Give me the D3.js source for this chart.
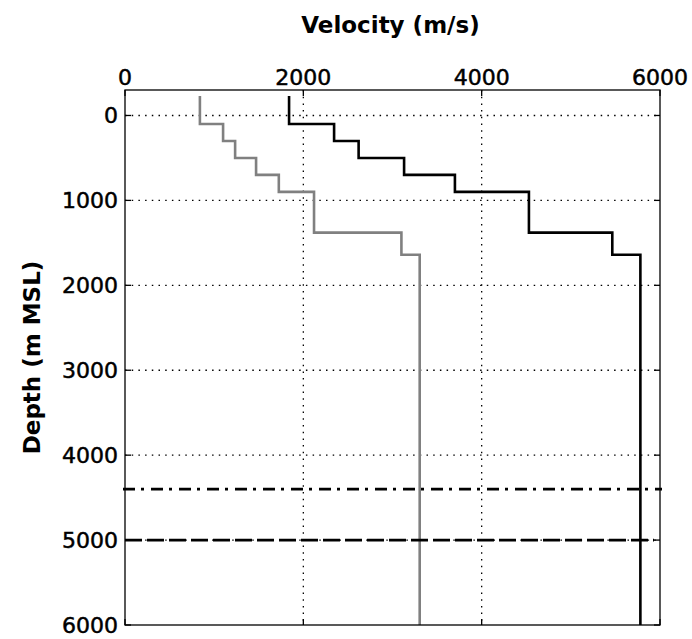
<!DOCTYPE html>
<html>
<head>
<meta charset="utf-8">
<script src="https://cdn.jsdelivr.net/npm/d3@7/dist/d3.min.js"></script>
<style>
  html, body { margin: 0; padding: 0; background: #fff; }
  svg { display: block; }
  text { font-family: "DejaVu Sans", sans-serif; fill: #000; }
</style>
</head>
<body>
<svg id="chart" width="692" height="639"></svg>
<script>
// ---- data ----
const layerTops = [-230, 100, 300, 500, 700, 900, 1380, 1640];   // depth (m MSL) of layer tops
const bottomDepth = 6000;
const grayVelocity  = [840, 1100, 1235, 1470, 1725, 2120, 3100, 3305];   // m/s
const blackVelocity = [1840, 2345, 2620, 3130, 3700, 4530, 5465, 5780];  // m/s
const dashDotDepth = [4400];
const dashedDepth = [5000];
const xTicks = [0, 2000, 4000, 6000];
const yTicks = [0, 1000, 2000, 3000, 4000, 5000, 6000];
const xGrid = [2000, 4000];
const yGrid = [0, 1000, 2000, 3000, 4000, 5000];

const svg = d3.select("#chart");
const L = 125, R = 660, T = 90, B = 625;

const x = d3.scaleLinear().domain([0, 6000]).range([L, R]);
const y = d3.scaleLinear().domain([-300, 6000]).range([T, B]);

// grid
const g = svg.append("g");
g.selectAll("line.gx").data(xGrid).join("line")
  .attr("x1", d => x(d)).attr("x2", d => x(d)).attr("y1", T).attr("y2", B)
  .attr("stroke", "#000").attr("stroke-width", 1.3).attr("stroke-dasharray", "1.5,5.2");
g.selectAll("line.gy").data(yGrid).join("line")
  .attr("x1", L).attr("x2", R).attr("y1", d => y(d)).attr("y2", d => y(d))
  .attr("stroke", "#000").attr("stroke-width", 1.3).attr("stroke-dasharray", "1.5,5.2");

// profiles
function stepPoints(vel) {
  const pts = [];
  vel.forEach((v, i) => {
    const top = layerTops[i];
    const bot = i + 1 < layerTops.length ? layerTops[i + 1] : bottomDepth;
    pts.push([v, top], [v, bot]);
  });
  return pts;
}
const line = d3.line().x(d => x(d[0])).y(d => y(d[1]));
svg.append("path").attr("d", line(stepPoints(grayVelocity)))
  .attr("fill", "none").attr("stroke", "#808080").attr("stroke-width", 2.6);
svg.append("path").attr("d", line(stepPoints(blackVelocity)))
  .attr("fill", "none").attr("stroke", "#000").attr("stroke-width", 2.6);

// horizontal markers
svg.selectAll("line.dd").data(dashDotDepth).join("line")
  .attr("x1", x(0) - 2).attr("x2", x(6000) + 2).attr("y1", d => y(d)).attr("y2", d => y(d))
  .attr("stroke", "#000").attr("stroke-width", 2.6).attr("stroke-dasharray", "12,6,3,7");
svg.selectAll("line.ds").data(dashedDepth).join("line")
  .attr("x1", x(0)).attr("x2", x(6000) - 6).attr("y1", d => y(d)).attr("y2", d => y(d))
  .attr("stroke", "#000").attr("stroke-width", 2.6).attr("stroke-dasharray", "17,5");

// frame
svg.append("rect").attr("x", L).attr("y", T).attr("width", R - L).attr("height", B - T)
  .attr("fill", "none").attr("stroke", "#000").attr("stroke-width", 1.3);

// ticks (inward)
const tk = 6;
xTicks.forEach(d => {
  svg.append("line").attr("x1", x(d)).attr("x2", x(d)).attr("y1", T).attr("y2", T + tk).attr("stroke", "#000").attr("stroke-width", 1.3);
  svg.append("line").attr("x1", x(d)).attr("x2", x(d)).attr("y1", B).attr("y2", B - tk).attr("stroke", "#000").attr("stroke-width", 1.3);
});
yTicks.forEach(d => {
  svg.append("line").attr("x1", L).attr("x2", L + tk).attr("y1", y(d)).attr("y2", y(d)).attr("stroke", "#000").attr("stroke-width", 1.3);
  svg.append("line").attr("x1", R).attr("x2", R - tk).attr("y1", y(d)).attr("y2", y(d)).attr("stroke", "#000").attr("stroke-width", 1.3);
});

// tick labels
svg.selectAll("text.xt").data(xTicks).join("text")
  .attr("x", d => x(d)).attr("y", 85).attr("text-anchor", "middle")
  .attr("font-size", 22).attr("stroke", "#000").attr("stroke-width", 0.5).text(d => d);
svg.selectAll("text.yt").data(yTicks).join("text")
  .attr("x", 118).attr("y", d => y(d) + 8).attr("text-anchor", "end")
  .attr("font-size", 22).attr("stroke", "#000").attr("stroke-width", 0.5).text(d => d);

// titles
svg.append("text").attr("x", (L + R) / 2 - 2).attr("y", 33).attr("text-anchor", "middle")
  .attr("font-size", 23).attr("font-weight", "bold").text("Velocity (m/s)");
svg.append("text").attr("transform", `translate(40,${(T + B) / 2}) rotate(-90)`)
  .attr("text-anchor", "middle").attr("font-size", 23).attr("font-weight", "bold")
  .text("Depth (m MSL)");
</script>
</body>
</html>
